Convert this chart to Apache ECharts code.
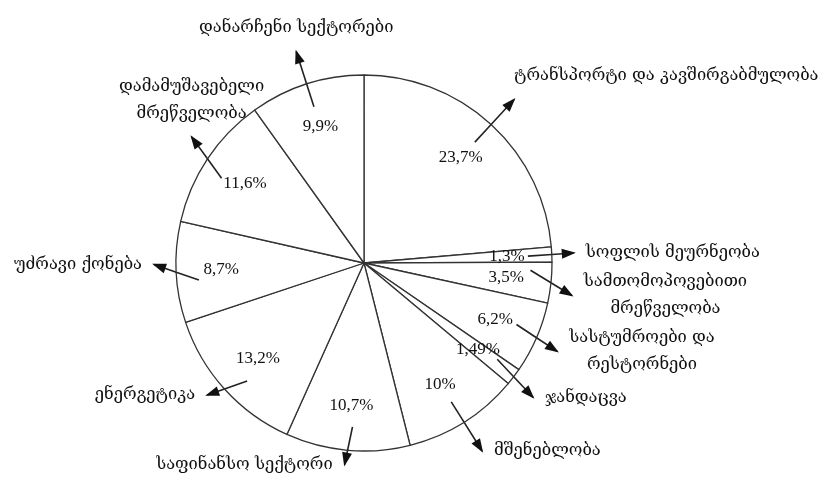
<!DOCTYPE html>
<html>
<head>
<meta charset="utf-8">
<script src="https://cdn.jsdelivr.net/npm/echarts@6/dist/echarts.min.js"></script>
<style>
  html, body { margin: 0; padding: 0; background: #fff; }
  #chart { width: 823px; height: 479px; }
</style>
</head>
<body>
<div id="chart"></div>
<script>
// sectors, clockwise from the top
const sectors = [
  'ტრანსპორტი და კავშირგაბმულობა',
  'სოფლის მეურნეობა',
  'სამთომოპოვებითი\nმრეწველობა',
  'სასტუმროები და\nრესტორნები',
  'ჯანდაცვა',
  'მშენებლობა',
  'საფინანსო სექტორი',
  'ენერგეტიკა',
  'უძრავი ქონება',
  'დამამუშავებელი\nმრეწველობა',
  'დანარჩენი სექტორები'
]
const shares = [23.7, 1.3, 3.5, 6.2, 1.49, 10, 10.7, 13.2, 8.7, 11.6, 9.9]

const geoFont = 'DejaVu Serif, DejaVu Sans, serif'
const numFont = 'Liberation Serif, serif'

const chart = echarts.init(document.getElementById('chart'))

function unitDir(pts) {
  const end = pts[pts.length - 1]
  const prev = pts[0]
  const len = Math.hypot(end[0] - prev[0], end[1] - prev[1]) || 1
  return [(end[0] - prev[0]) / len, (end[1] - prev[1]) / len]
}

// labels on arrows pointing upwards sit above the arrow head,
// the others keep their place but centre their lines
function placeLabel(params) {
  const pts = params.labelLinePoints
  if (!pts) return {}
  const end = pts[pts.length - 1]
  const u = unitDir(pts)
  if (u[1] < -0.66) {
    return {
      x: end[0],
      y: end[1] - 10,
      align: u[0] > 0.5 ? 'left' : 'center',
      verticalAlign: 'bottom',
      labelLinePoints: pts
    }
  }
  const r = params.labelRect
  return {
    x: r.x + r.width / 2,
    y: r.y + r.height / 2,
    align: 'center',
    verticalAlign: 'middle',
    labelLinePoints: pts
  }
}

const pieData = sectors.map((name, i) => ({ name: name, value: shares[i] }))

chart.setOption({
  animation: false,
  backgroundColor: '#fff',
  series: [
    {
      // slices + sector names with arrows
      type: 'pie',
      center: [364, 263],
      radius: [0, 188],
      startAngle: 90,
      clockwise: true,
      avoidLabelOverlap: true,
      itemStyle: {
        color: '#fff',
        borderColor: '#333',
        borderWidth: 1.3
      },
      label: {
        show: true,
        position: 'outside',
        formatter: '{b}',
        overflow: 'none',
        color: '#111',
        fontFamily: geoFont,
        fontSize: 16.5,
        lineHeight: 27,
        distanceToLabelLine: 12
      },
      labelLine: {
        show: true,
        length: 34,
        length2: 0,
        lineStyle: { color: '#222', width: 1.6 }
      },
      labelLayout: placeLabel,
      emphasis: { disabled: true },
      data: pieData
    },
    {
      // percentage values inside the slices
      type: 'pie',
      center: [364, 263],
      radius: [92, 188],
      startAngle: 90,
      clockwise: true,
      silent: true,
      itemStyle: { color: 'rgba(0,0,0,0)', borderWidth: 0 },
      label: {
        show: true,
        position: 'inside',
        formatter: p => String(p.value).replace('.', ',') + '%',
        color: '#111',
        fontFamily: numFont,
        fontSize: 17
      },
      labelLine: { show: false },
      emphasis: { disabled: true },
      data: pieData
    }
  ]
})

// arrows: the tail reaches into the slice, the head sits at the outer end of the guide line
const arrows = []
const pieList = chart.getModel().getSeriesByIndex(0).getData()
pieList.each(function (i) {
  const el = pieList.getItemGraphicEl(i)
  const guide = el && el.getTextGuideLine()
  if (!guide || !guide.shape.points) return
  const pts = guide.shape.points
  const start = pts[0]
  const end = pts[pts.length - 1]
  const u = unitDir(pts)
  const tail = 24, hl = 12, hw = 5
  arrows.push({
    type: 'line',
    silent: true,
    shape: { x1: start[0] - u[0] * tail, y1: start[1] - u[1] * tail, x2: start[0], y2: start[1] },
    style: { stroke: '#222', lineWidth: 1.6 },
    z: 10
  })
  arrows.push({
    type: 'polygon',
    silent: true,
    shape: {
      points: [
        [end[0] + u[0] * 2, end[1] + u[1] * 2],
        [end[0] - u[0] * hl - u[1] * hw, end[1] - u[1] * hl + u[0] * hw],
        [end[0] - u[0] * hl + u[1] * hw, end[1] - u[1] * hl - u[0] * hw]
      ]
    },
    style: { fill: '#111' },
    z: 10
  })
})
chart.setOption({ graphic: arrows })
</script>
</body>
</html>
